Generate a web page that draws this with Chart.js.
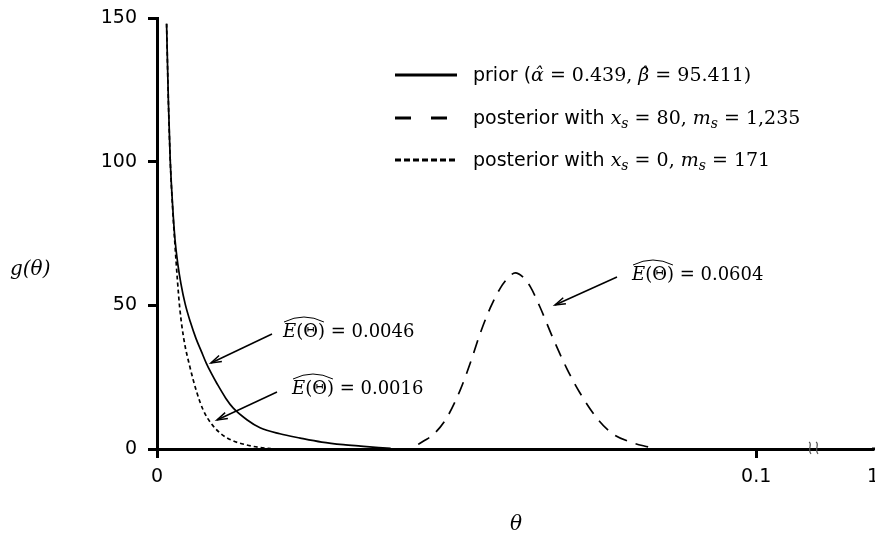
<!DOCTYPE html>
<html>
<head>
<meta charset="utf-8">
<script src="https://cdn.jsdelivr.net/npm/chart.js@4.4.0/dist/chart.umd.min.js"></script>
<style>
  html, body { margin: 0; padding: 0; background: #fff; }
  #wrap { width: 875px; height: 542px; position: relative; }
</style>
</head>
<body>
<div id="wrap"><canvas id="grafica"></canvas></div>
<script>
// valores
const thetaPrior = [0.0016, 0.0019, 0.0022, 0.0026, 0.0030, 0.0035, 0.0040, 0.0047, 0.0056, 0.0065, 0.0074, 0.0082, 0.0091, 0.0100, 0.0115, 0.0127, 0.0150, 0.0172, 0.0205, 0.0239, 0.0275, 0.0311, 0.0340, 0.0370, 0.0390];
const gPrior     = [148, 121, 101, 85, 73, 64, 57.5, 50.5, 44, 38.5, 34, 30, 26.2, 22.8, 17.6, 14.3, 10.2, 7.4, 5.3, 3.8, 2.4, 1.5, 1.0, 0.5, 0.2];

const thetaPost80 = [0.0436, 0.0445, 0.0461, 0.0484, 0.0506, 0.0523, 0.0539, 0.0556, 0.0573, 0.0588, 0.0598, 0.0610, 0.0623, 0.0639, 0.0661, 0.0684, 0.0706, 0.0735, 0.0761, 0.0795, 0.0820];
const gPost80     = [1.6, 2.8, 5, 11, 20.5, 30, 40, 49, 56, 60, 61.3, 60, 56.5, 49.5, 38.5, 28, 19.5, 10.5, 5.2, 2.1, 0.7];

const thetaPost0 = [0.0016, 0.0019, 0.0022, 0.0026, 0.0030, 0.0034, 0.0038, 0.0045, 0.0055, 0.0066, 0.0077, 0.0090, 0.0105, 0.0125, 0.0150, 0.0172, 0.0190];
const gPost0     = [148, 121, 101, 84, 71, 59, 49, 38, 28.5, 20, 13.6, 9, 5.6, 3, 1.4, 0.5, 0.1];

const xTicks = [0, 0.1, 0.1195];
const xTickLabels = ['0', '0.1', '1'];
const yTicks = [0, 50, 100, 150];

const sans = '"DejaVu Sans", sans-serif';
const serif = '"DejaVu Serif", serif';

const toPoints = (xs, ys) => xs.map((x, i) => ({ x: x, y: ys[i] }));

// dibuja trozos de texto con distintas fuentes uno tras otro
function drawRuns(ctx, x, y, runs) {
  runs.forEach(r => {
    ctx.font = r.font;
    const dy = r.dy || 0;
    ctx.fillText(r.t, x, y + dy);
    x += ctx.measureText(r.t).width;
  });
  return x;
}

function arrow(ctx, x0, y0, x1, y1) {
  ctx.beginPath();
  ctx.moveTo(x0, y0);
  ctx.lineTo(x1, y1);
  ctx.stroke();
  const a = Math.atan2(y1 - y0, x1 - x0);
  const L = 11, w = 0.3;
  ctx.beginPath();
  ctx.moveTo(x1 - L * Math.cos(a - w), y1 - L * Math.sin(a - w));
  ctx.lineTo(x1, y1);
  ctx.lineTo(x1 - L * Math.cos(a + w), y1 - L * Math.sin(a + w));
  ctx.stroke();
}

function hatE(ctx, x, y, value) {
  const it = 'italic 18px ' + serif;
  const up = '18px ' + serif;
  const x0 = x;
  const xe = drawRuns(ctx, x, y, [{ t: 'E', font: it }, { t: '(Θ)', font: up }]);
  // sombrero ancho sobre E(Θ)
  ctx.lineWidth = 1;
  ctx.beginPath();
  ctx.moveTo(x0 + 1, y - 15);
  ctx.quadraticCurveTo((x0 + xe) / 2, y - 25, xe - 1, y - 15);
  ctx.stroke();
  drawRuns(ctx, xe, y, [{ t: ' = ' + value, font: up }]);
}

const extras = {
  id: 'extras',
  afterDraw(chart) {
    const ctx = chart.ctx;
    ctx.save();
    ctx.fillStyle = '#000';
    ctx.strokeStyle = '#000';
    ctx.textBaseline = 'alphabetic';
    ctx.textAlign = 'left';

    // leyenda
    const rows = [
      { y: 75, dash: [], runs: [
        { t: 'prior (', font: '19px ' + sans },
        { t: 'α\u0302', font: 'italic 19px ' + serif },
        { t: ' = 0.439, ', font: '19px ' + serif },
        { t: 'β\u0302', font: 'italic 19px ' + serif },
        { t: ' = 95.411)', font: '19px ' + serif }] },
      { y: 118, dash: [16, 20], runs: [
        { t: 'posterior with ', font: '19px ' + sans },
        { t: 'x', font: 'italic 19px ' + serif },
        { t: 's', font: 'italic 14px ' + serif, dy: 4 },
        { t: ' = 80, ', font: '19px ' + serif },
        { t: 'm', font: 'italic 19px ' + serif },
        { t: 's', font: 'italic 14px ' + serif, dy: 4 },
        { t: ' = 1,235', font: '19px ' + serif }] },
      { y: 160, dash: [6, 3], runs: [
        { t: 'posterior with ', font: '19px ' + sans },
        { t: 'x', font: 'italic 19px ' + serif },
        { t: 's', font: 'italic 14px ' + serif, dy: 4 },
        { t: ' = 0, ', font: '19px ' + serif },
        { t: 'm', font: 'italic 19px ' + serif },
        { t: 's', font: 'italic 14px ' + serif, dy: 4 },
        { t: ' = 171', font: '19px ' + serif }] }
    ];
    rows.forEach(r => {
      ctx.lineWidth = 3;
      ctx.setLineDash(r.dash);
      ctx.beginPath();
      ctx.moveTo(395, r.y);
      ctx.lineTo(457, r.y);
      ctx.stroke();
      ctx.setLineDash([]);
      drawRuns(ctx, 473, r.y + 6, r.runs);
    });

    // anotaciones
    hatE(ctx, 283, 337, '0.0046');
    hatE(ctx, 292, 394, '0.0016');
    hatE(ctx, 632, 280, '0.0604');
    ctx.lineWidth = 1.5;
    arrow(ctx, 272, 334, 211, 363);
    arrow(ctx, 277, 392, 217, 420);
    arrow(ctx, 617, 277, 555, 305);

    // titulos de los ejes
    ctx.font = 'italic 20px ' + serif;
    ctx.fillText('g(θ)', 10, 275);
    ctx.textAlign = 'center';
    ctx.fillText('θ', 516, 530);

    // eje x hasta el borde
    ctx.lineWidth = 3;
    ctx.beginPath();
    ctx.moveTo(chart.chartArea.right - 1, chart.chartArea.bottom);
    ctx.lineTo(875, chart.chartArea.bottom);
    ctx.stroke();

    // marca de corte del eje x
    ctx.strokeStyle = '#555';
    ctx.lineWidth = 1.2;
    [810, 817].forEach(bx => {
      ctx.beginPath();
      ctx.moveTo(bx - 1, 442);
      ctx.bezierCurveTo(bx + 3, 444, bx - 3, 449, bx + 1, 454);
      ctx.stroke();
    });
    ctx.restore();
  }
};

const ctx = document.getElementById('grafica').getContext('2d');

const chartConfig = {
  type: 'line',
  data: {
    datasets: [
      {
        label: 'prior',
        data: toPoints(thetaPrior, gPrior),
        borderColor: '#000',
        borderWidth: 1.7,
        pointRadius: 0,
        cubicInterpolationMode: 'monotone',
        fill: false,
      },
      {
        label: 'posterior 80',
        data: toPoints(thetaPost80, gPost80),
        borderColor: '#000',
        borderWidth: 1.7,
        borderDash: [13, 9],
        pointRadius: 0,
        cubicInterpolationMode: 'monotone',
        fill: false,
      },
      {
        label: 'posterior 0',
        data: toPoints(thetaPost0, gPost0),
        borderColor: '#000',
        borderWidth: 1.7,
        borderDash: [4, 3],
        pointRadius: 0,
        cubicInterpolationMode: 'monotone',
        fill: false,
      },
    ],
  },
  options: {
    responsive: false,
    animation: false,
    layout: { padding: { top: 18, right: 2, left: 0, bottom: 0 } },
    plugins: {
      legend: { display: false },
      tooltip: { enabled: false },
    },
    scales: {
      x: {
        type: 'linear',
        min: 0,
        max: xTicks[2],
        afterBuildTicks: scale => { scale.ticks = xTicks.map(v => ({ value: v })); },
        afterFit: scale => { scale.height = 93; scale.paddingLeft = 0; scale.paddingRight = 0; },
        ticks: {
          autoSkip: false,
          maxRotation: 0,
          padding: 8,
          color: '#000',
          font: { family: sans, size: 19 },
          callback: (v, i) => xTickLabels[i],
        },
        grid: {
          drawOnChartArea: false,
          tickLength: 9,
          tickWidth: 3,
          tickColor: c => (c.index === 2 ? 'rgba(0,0,0,0)' : '#000'),
        },
        border: { display: true, width: 3, color: '#000' },
      },
      y: {
        min: 0,
        max: 150,
        afterBuildTicks: scale => { scale.ticks = yTicks.map(v => ({ value: v })); },
        afterFit: scale => { scale.width = 157; scale.paddingTop = 0; scale.paddingBottom = 0; },
        ticks: {
          padding: 11,
          color: '#000',
          font: { family: sans, size: 19 },
        },
        grid: {
          drawOnChartArea: false,
          tickLength: 9,
          tickWidth: 3,
          tickColor: '#000',
        },
        border: { display: true, width: 3, color: '#000' },
      },
    },
  },
  plugins: [extras],
};

const canvas = document.getElementById('grafica');
canvas.width = 875;
canvas.height = 542;
canvas.style.width = '875px';
canvas.style.height = '542px';
const lineChart = new Chart(ctx, chartConfig);
</script>
</body>
</html>
